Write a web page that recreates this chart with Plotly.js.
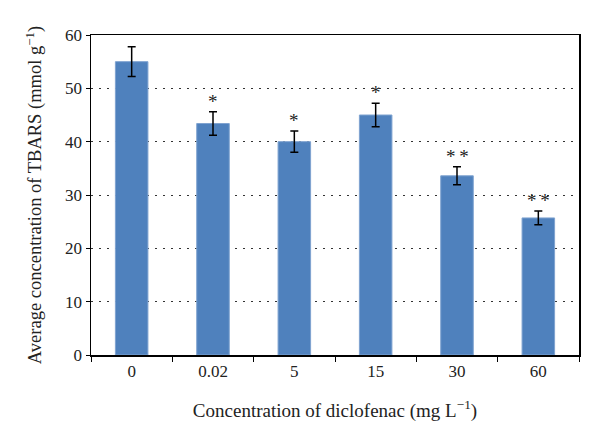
<!DOCTYPE html>
<html><head><meta charset="utf-8">
<script src="https://cdn.plot.ly/plotly-3.0.1.min.js"></script>
<style>html,body{margin:0;padding:0;background:#fff}</style>
</head><body>
<div id="chart" style="width:600px;height:446px"></div>
<script>
const categories = ["0", "0.02", "5", "15", "30", "60"];
const values = [55, 43.4, 40, 45, 33.6, 25.7];
const errors = [2.8, 2.2, 2.0, 2.2, 1.7, 1.3];
const marks = ["", "*", "*", "*", "*\u2009*", "*\u2009*"];

const trace = {
  type: "bar", x: categories, y: values, width: 0.4,
  marker: {color: "#4F81BD", line: {color: "#7FA3D0", width: 1}},
  error_y: {type: "data", array: errors, visible: true, color: "#000", thickness: 1.5, width: 4}
};
const annotations = categories.map((c, i) => ({
  x: i, y: values[i] + errors[i], text: marks[i], showarrow: false,
  yanchor: "bottom", yshift: -2,
  font: {family: "Liberation Serif", size: 19, color: "#222"}
})).filter(a => a.text);

Plotly.newPlot("chart", [trace], {
  width: 600, height: 446,
  margin: {l: 91, r: 21, t: 35, b: 91},
  paper_bgcolor: "#fff", plot_bgcolor: "#fff",
  font: {family: "Liberation Serif", color: "#222", size: 17},
  showlegend: false,
  xaxis: {
    type: "category", range: [-0.5, categories.length - 0.5], autorange: false,
    tickson: "boundaries", ticks: "outside", ticklen: 5, tickcolor: "#000", tickangle: 0,
    showline: true, linecolor: "#000", linewidth: 1.5, mirror: true, showgrid: false,
    tickfont: {size: 17},
    title: {text: "Concentration of diclofenac (mg L<sup>−1</sup>)", font: {size: 19}, standoff: 24}
  },
  yaxis: {
    range: [0, 60], autorange: false, dtick: 10, ticks: "outside", ticklen: 4, tickcolor: "#000",
    showline: true, linecolor: "#000", linewidth: 1.5, mirror: true,
    showgrid: true, gridcolor: "#333", griddash: "2px,6px", gridwidth: 1,
    zeroline: false, tickfont: {size: 17},
    title: {text: "Average concentration of TBARS (mmol g<sup>−1</sup>)", font: {size: 18.5}, standoff: 18}
  },
  annotations: annotations
}, {displayModeBar: false, staticPlot: true});
</script>
</body></html>
